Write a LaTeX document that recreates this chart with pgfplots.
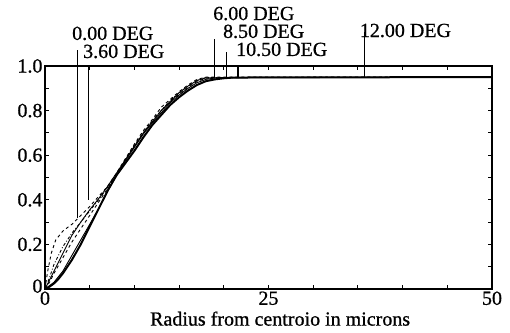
\documentclass[border=0pt]{standalone}
\usepackage{fontspec}
\setmainfont{Liberation Serif}[FakeBold=0.8]
\usepackage{pgfplots}
\pgfplotsset{compat=1.18}
\begin{document}
\begin{tikzpicture}
\useasboundingbox (-45bp,-44bp) rectangle (465bp,289bp);
\begin{axis}[
  at={(0,0)}, anchor=south west,
  scale only axis, width=447bp, height=223bp,
  xmin=0, xmax=50, ymin=0, ymax=1,
  clip=false,
  font=\fontsize{20bp}{23bp}\selectfont,
  axis line style={line width=1.3bp},
  tick align=inside,
  major tick length=4bp, minor tick length=4bp,
  tick style={black, line width=1bp},
  xtick={0,25,50}, xticklabels={0,25,50},
  minor xtick={5,10,15,20,30,35,40,45},
  ytick={0,0.2,0.4,0.6,0.8,1.0},
  yticklabels={\raisebox{6bp}{0}\hspace{3bp},0.2,0.4,0.6,0.8,1.0},
  minor ytick={0.1,0.3,0.5,0.7,0.9},
  yticklabel style={xshift=1bp},
  xticklabel style={yshift=1bp},
  xlabel={Radius from centroio in microns},
  xlabel style={at={(axis description cs:0.526,0)}, anchor=north, yshift=-19bp},
  every axis plot/.append style={black},
]
% main thick curve
\addplot[line width=2bp] coordinates {
(0,0) (0.5,0.01) (1,0.025) (1.5,0.045) (2,0.07) (3,0.13) (4,0.2) (5,0.28) (6,0.36) (7,0.44) (8,0.51) (9,0.565) (10,0.62) (11,0.68) (12,0.735) (13,0.78) (14,0.825) (15,0.86) (16,0.89) (17,0.915) (18,0.932) (19,0.94) (20,0.945) (21,0.948) (25,0.949) (50,0.95)};
\addplot[line width=0.9bp] coordinates {
(0,0) (1,0.03) (2,0.08) (3,0.15) (4,0.22) (5,0.29) (6,0.36) (7,0.44) (8,0.51) (9,0.575) (10,0.635) (11,0.695) (12,0.745) (13,0.79) (14,0.835) (15,0.87) (16,0.9) (17,0.925) (18,0.94) (19,0.946) (20,0.948) (50,0.95)};
\addplot[line width=0.9bp, dashed] coordinates {
(0,0) (0.5,0.03) (1,0.07) (2,0.14) (3,0.21) (4,0.27) (5,0.33) (6,0.39) (7,0.45) (8,0.51) (9,0.58) (10,0.645) (11,0.7) (12,0.75) (13,0.8) (14,0.84) (15,0.875) (16,0.905) (17,0.93) (18,0.945) (19,0.948) (50,0.95)};
\addplot[line width=0.9bp, dash dot] coordinates {
(0,0) (0.5,0.05) (1,0.11) (2,0.19) (3,0.25) (4,0.3) (5,0.35) (6,0.4) (7,0.455) (8,0.515) (9,0.58) (10,0.64) (11,0.7) (12,0.755) (13,0.8) (14,0.845) (15,0.88) (16,0.91) (17,0.935) (18,0.948) (50,0.95)};
\addplot[line width=0.9bp, dashed] coordinates {
(0,0) (0.3,0.08) (0.7,0.16) (1.2,0.22) (2,0.26) (3,0.29) (4,0.33) (5,0.37) (6,0.415) (7,0.46) (8,0.52) (9,0.585) (10,0.65) (11,0.71) (12,0.76) (13,0.815) (14,0.85) (15,0.885) (16,0.915) (17,0.94) (18,0.95) (50,0.95)};
\addplot[line width=0.9bp] coordinates {
(0,0) (0.5,0.04) (1,0.08) (2,0.16) (3,0.24) (4,0.3) (5,0.355) (6,0.405) (7,0.46) (8,0.52) (9,0.58) (10,0.64) (11,0.7) (12,0.75) (13,0.8) (14,0.84) (15,0.88) (16,0.91) (17,0.935) (18,0.947) (50,0.95)};
% marker lines
\addplot[line width=1bp] coordinates {(3.6,0.32) (3.6,1.07)};
\addplot[line width=1bp] coordinates {(4.87,0.40) (4.87,1.0)};
\addplot[line width=1bp] coordinates {(19.0,0.946) (19.0,1.121)};
\addplot[line width=1bp] coordinates {(20.3,0.946) (20.3,1.063)};
\addplot[line width=1.8bp] coordinates {(21.55,0.946) (21.55,1.004)};
\addplot[line width=1.3bp] coordinates {(35.7,0.95) (35.7,1.152)};
% labels
\node[anchor=base west, inner sep=0pt] at (axis cs:3.02,1.117) {0.00 DEG};
\node[anchor=base west, inner sep=0pt] at (axis cs:4.25,1.036) {3.60 DEG};
\node[anchor=base west, inner sep=0pt] at (axis cs:18.8,1.206) {6.00 DEG};
\node[anchor=base west, inner sep=0pt] at (axis cs:19.9,1.126) {8.50 DEG};
\node[anchor=base west, inner sep=0pt] at (axis cs:21.36,1.045) {10.50 DEG};
\node[anchor=base west, inner sep=0pt] at (axis cs:35.2,1.13) {12.00 DEG};
\end{axis}
\end{tikzpicture}
\end{document}
